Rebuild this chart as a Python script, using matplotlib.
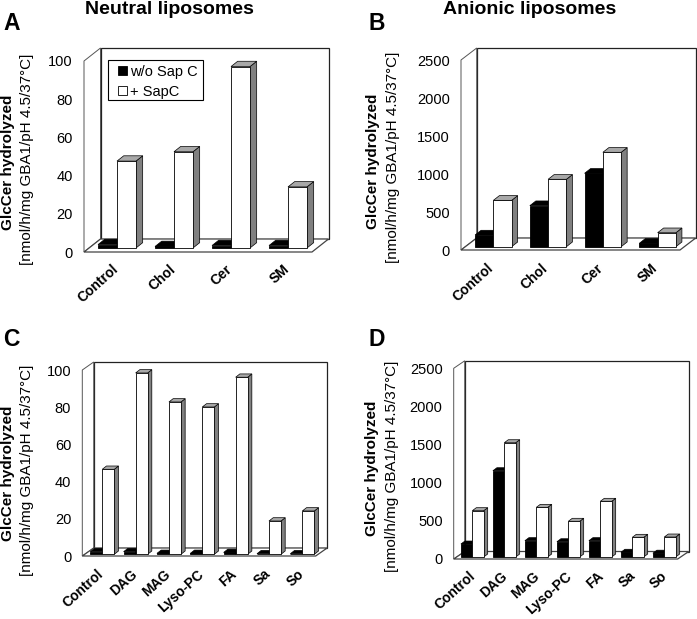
import matplotlib
matplotlib.use("Agg")
import matplotlib.pyplot as plt
from matplotlib.patches import Polygon, Patch, Rectangle
from matplotlib.transforms import ScaledTranslation
import numpy as np

plt.rcParams['font.family'] = ['Liberation Sans', 'DejaVu Sans']

W, H = 697, 619
DPI = 100

cats_ab = ['Control', 'Chol', 'Cer', 'SM']
cats_cd = ['Control', 'DAG', 'MAG', 'Lyso-PC', 'FA', 'Sa', 'So']

a_without = [1.8, 0.8, 1.3, 1.3]
a_with = [45.5, 50.4, 95.0, 32.0]
b_without = [154, 540, 966, 45]
b_with = [610, 887, 1242, 184]
c_without = [1.4, 1.4, 0.5, 0.5, 1.0, 0.3, 0.3]
c_with = [45.7, 97.5, 81.9, 79.2, 95.2, 17.9, 23.3]
d_without = [170, 1131, 214, 200, 214, 62, 50]
d_with = [607, 1498, 651, 468, 730, 258, 262]

ticks_100 = [0, 20, 40, 60, 80, 100]
ticks_2500 = [0, 500, 1000, 1500, 2000, 2500]

fig = plt.figure(figsize=(W / DPI, H / DPI), dpi=DPI, facecolor='white')


def panel(letter, letter_xy, cats, v0, v1, ticks, box, wall, bw, shift, base, depth,
          ylab_x, ylab_y, xlab_off):
    left, right, y0, ytop = box
    ax = fig.add_axes([left / W, 1 - y0 / H, (right - left) / W, (y0 - ytop) / H])
    n = len(cats)
    ymax = ticks[-1]
    ax.set_xlim(-0.5, n - 0.5)
    ax.set_ylim(0, ymax)
    ax.patch.set_visible(False)
    for s in ax.spines.values():
        s.set_visible(False)
    ux = n / (right - left)
    uy = ymax / (y0 - ytop)
    wx, wy = wall[0] * ux, wall[1] * uy
    xl, xr = -0.5, n - 0.5

    # walls and floor
    ax.add_patch(Polygon([(xl + wx, wy), (xr + wx, wy), (xr + wx, ymax + wy), (xl + wx, ymax + wy)],
                         closed=True, fc='white', ec='#222222', lw=0.9, clip_on=False, zorder=1))
    ax.add_patch(Polygon([(xl, 0), (xl + wx, wy), (xl + wx, ymax + wy), (xl, ymax)],
                         closed=True, fc='white', ec='#555555', lw=0.7, clip_on=False, zorder=1))
    ax.add_patch(Polygon([(xl, 0), (xr, 0), (xr + wx, wy), (xl + wx, wy)],
                         closed=True, fc='white', ec='#444444', lw=0.9, clip_on=False, zorder=1))

    # bars
    sx, by = shift * ux, base * uy
    dx, dy = depth[0] * ux, depth[1] * uy
    x = np.arange(n) + sx
    for vals, fc, side, top, z, off in ((v0, 'black', 'black', 'black', 2, -bw),
                                        (v1, 'white', '#808080', '#a8a8a8', 3, 0.0)):
        ax.bar(x + off, vals, bw, bottom=by, align='edge', color=fc, edgecolor='black',
               linewidth=0.6, zorder=z + 0.5, clip_on=False)
        for xi, v in zip(x + off, vals):
            t = by + v
            ax.add_patch(Polygon([(xi + bw, by), (xi + bw + dx, by + dy), (xi + bw + dx, t + dy), (xi + bw, t)],
                                 closed=True, fc=side, ec='black', lw=0.5, zorder=z, clip_on=False))
            ax.add_patch(Polygon([(xi, t), (xi + dx, t + dy), (xi + bw + dx, t + dy), (xi + bw, t)],
                                 closed=True, fc=top, ec='black', lw=0.5, zorder=z, clip_on=False))

    ax.set_yticks(ticks)
    ax.tick_params(axis='y', length=0, pad=8, labelsize=10.5)
    ax.set_xticks(np.arange(n))
    ax.set_xticklabels(cats, rotation=42, ha='right', va='top', rotation_mode='anchor',
                       fontsize=10, fontweight='bold')
    ax.tick_params(axis='x', length=0, pad=0)
    off_tr = ScaledTranslation(xlab_off[0] / DPI, xlab_off[1] / DPI, fig.dpi_scale_trans)
    for lb in ax.get_xticklabels():
        lb.set_transform(lb.get_transform() + off_tr)

    ax.set_ylabel('GlcCer hydrolyzed', fontsize=11, fontweight='bold', rotation=90, va='center')
    ax.yaxis.set_label_coords((ylab_x[0] - left) / (right - left), (y0 - ylab_y[0]) / (y0 - ytop))
    fig.text(ylab_x[1] / W, 1 - ylab_y[1] / H, '[nmol/h/mg GBA1/pH 4.5/37°C]', rotation=90,
             ha='center', va='center', fontsize=11)
    fig.text(letter_xy[0] / W, 1 - letter_xy[1] / H, letter, fontsize=16.5, fontweight='bold',
             ha='left', va='center')
    return ax


ax_a = panel('A', (3, 23), cats_ab, a_without, a_with, ticks_100, (84, 312, 252, 61), (16.5, 13),
             0.333, 4.5, 4, (6.7, 5.3), (8, 27), (162, 159), (-1, -10))
panel('B', (368, 23), cats_ab, b_without, b_with, ticks_2500, (461, 680, 250, 60), (15.7, 12),
      0.334, 5, 3.3, (6, 4.7), (373, 393), (161, 157), (-2, -11))
panel('C', (3, 340), cats_cd, c_without, c_with, ticks_100, (82.3, 315.7, 556, 370), (11.4, 8),
      0.36, 3.3, 1.7, (4.2, 3.3), (8, 27), (473, 470), (-2, -11))
panel('D', (368, 340), cats_cd, d_without, d_with, ticks_2500, (453.7, 677.7, 559, 368.3), (11, 7.5),
      0.356, 2.6, 2, (4, 3), (372, 392), (468, 466), (-1, -10))

fig.text(169 / W, 1 - 10 / H, 'Neutral liposomes', fontsize=14, fontweight='bold', ha='center', va='center')
fig.text(530 / W, 1 - 10 / H, 'Anionic liposomes', fontsize=14, fontweight='bold', ha='center', va='center')

ax_a.add_patch(Rectangle((108 / W, 1 - 100 / H), 95 / W, 40 / H, transform=fig.transFigure,
                         fc='white', ec='black', lw=0.8, zorder=9, clip_on=False))
handles = [Patch(fc='black', ec='black', lw=0.6, label='w/o Sap C'),
           Patch(fc='white', ec='black', lw=0.6, label='+ SapC')]
leg = ax_a.legend(handles=handles, loc='upper left',
                  bbox_to_anchor=(118 / W, 1 - 65 / H), bbox_transform=fig.transFigure,
                  fontsize=10.5, frameon=False,
                  borderaxespad=0, handlelength=0.62, handleheight=0.6, handletextpad=0.2,
                  borderpad=0, labelspacing=0.4)
leg.set_zorder(10)

fig.savefig('out.png', dpi=DPI, facecolor='white')
